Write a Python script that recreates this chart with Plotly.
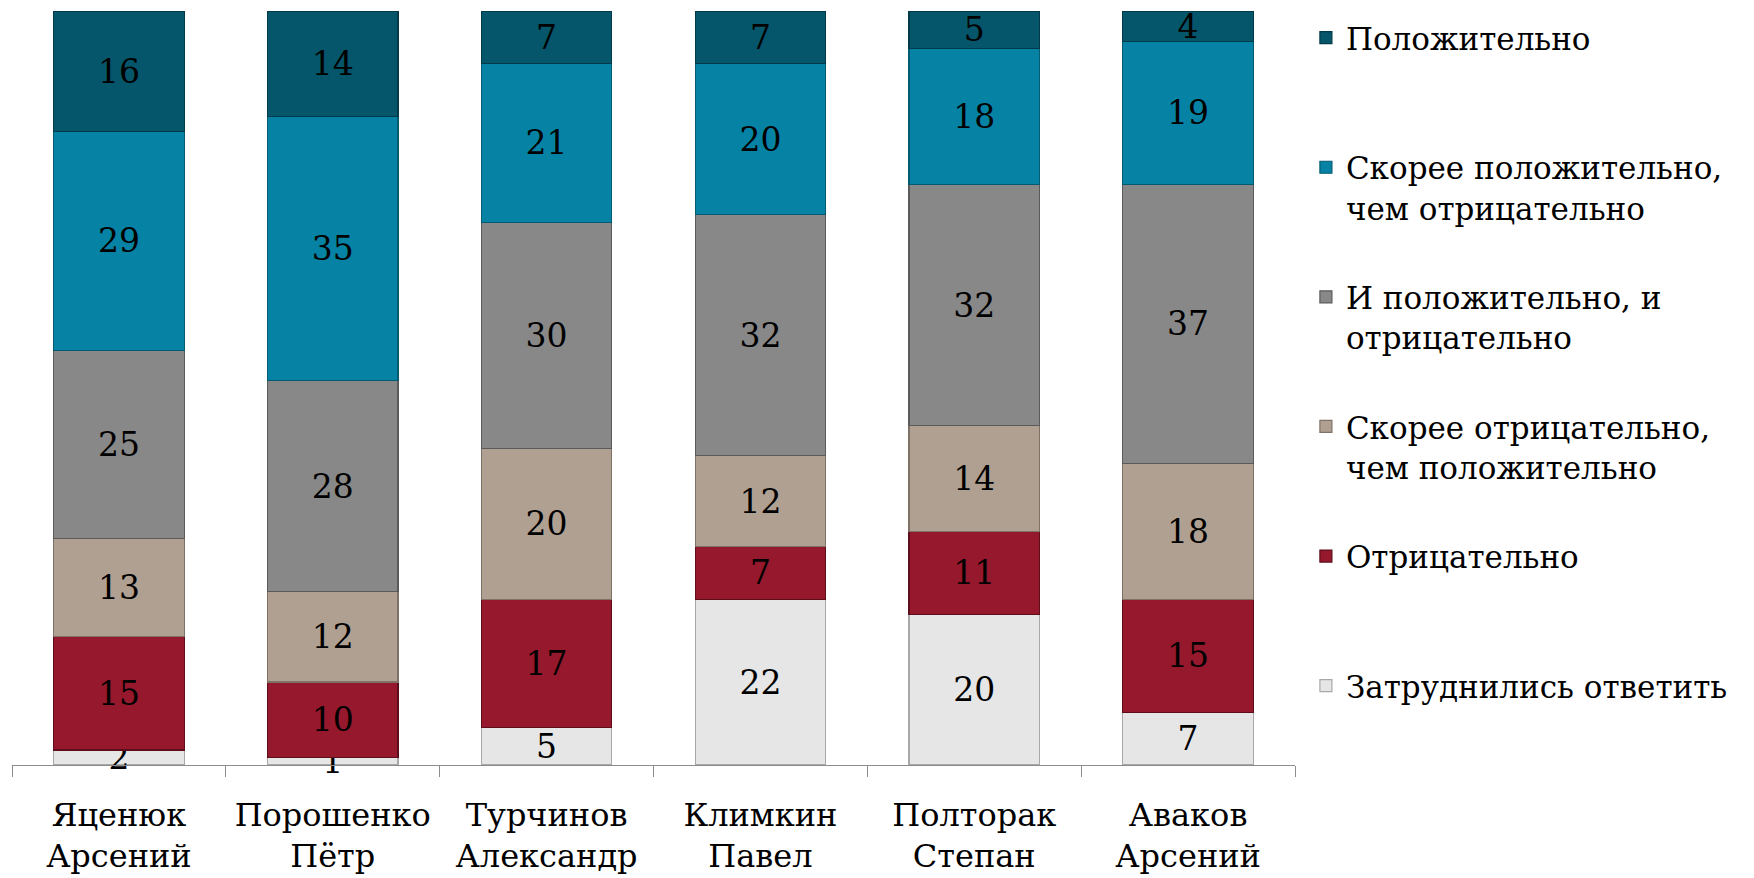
import plotly.graph_objects as go

categories = ["Яценюк<br>Арсений", "Порошенко<br>Пётр", "Турчинов<br>Александр",
              "Климкин<br>Павел", "Полторак<br>Степан", "Аваков<br>Арсений"]

# series, bottom to top
s_hard = [2, 1, 5, 22, 20, 7]          # Затруднились ответить
s_neg = [15, 10, 17, 7, 11, 15]        # Отрицательно
s_rneg = [13, 12, 20, 12, 14, 18]      # Скорее отрицательно, чем положительно
s_both = [25, 28, 30, 32, 32, 37]      # И положительно, и отрицательно
s_rpos = [29, 35, 21, 20, 18, 19]      # Скорее положительно, чем отрицательно
s_pos = [16, 14, 7, 7, 5, 4]           # Положительно

series_names = [
    "Затруднились ответить",
    "Отрицательно",
    "Скорее отрицательно,<br>чем положительно",
    "И положительно, и<br>отрицательно",
    "Скорее положительно,<br>чем отрицательно",
    "Положительно",
]
series_values = [s_hard, s_neg, s_rneg, s_both, s_rpos, s_pos]
colors = ["#E6E6E6", "#96182C", "#B0A092", "#888888", "#0683A4", "#06566B"]
edges = ["#A8A8A8", "#5E0E1B", "#7F7165", "#5A5A5A", "#045A71", "#033A49"]

FONT = "DejaVu Serif"

fig = go.Figure()
n = len(series_names)
for i, (name, vals, col, ed) in enumerate(zip(series_names, series_values, colors, edges)):
    label = name if "<br>" in name else name + "<br> "
    fig.add_trace(go.Bar(
        x=categories, y=vals, name=label,
        legendgroup=f"g{i}",
        legendrank=n - i,
        marker=dict(color=col, line=dict(color=ed, width=1.2)),
        text=[str(v) for v in vals],
        textposition="inside",
        insidetextanchor="middle",
        constraintext="none",
        textangle=0,
        cliponaxis=False,
        textfont=dict(family=FONT, size=33, color="black"),
        hoverinfo="skip",
    ))

fig.update_layout(
    barmode="stack",
    bargap=0.39,
    width=1746, height=870,
    margin=dict(l=4, r=459, t=3, b=111),
    paper_bgcolor="white", plot_bgcolor="white",
    font=dict(family=FONT, size=31, color="black"),
    showlegend=True,
    legend=dict(
        x=1.0085, xanchor="left", y=1.0, yanchor="top",
        traceorder="grouped",
        tracegroupgap=46,
        valign="top",
        font=dict(family=FONT, size=31, color="black"),
        bgcolor="rgba(0,0,0,0)",
        itemwidth=30,
    ),
    xaxis=dict(
        showline=True, linecolor="#8C8C8C", linewidth=1.2,
        ticks="outside", tickson="boundaries", ticklen=11, tickcolor="#8C8C8C", tickwidth=1.2,
        tickfont=dict(family=FONT, size=32, color="black"),
        ticklabelstandoff=21,
        showgrid=False,
    ),
    yaxis=dict(range=[0, 100], visible=False, showgrid=False),
)

fig.write_html("out.html")
